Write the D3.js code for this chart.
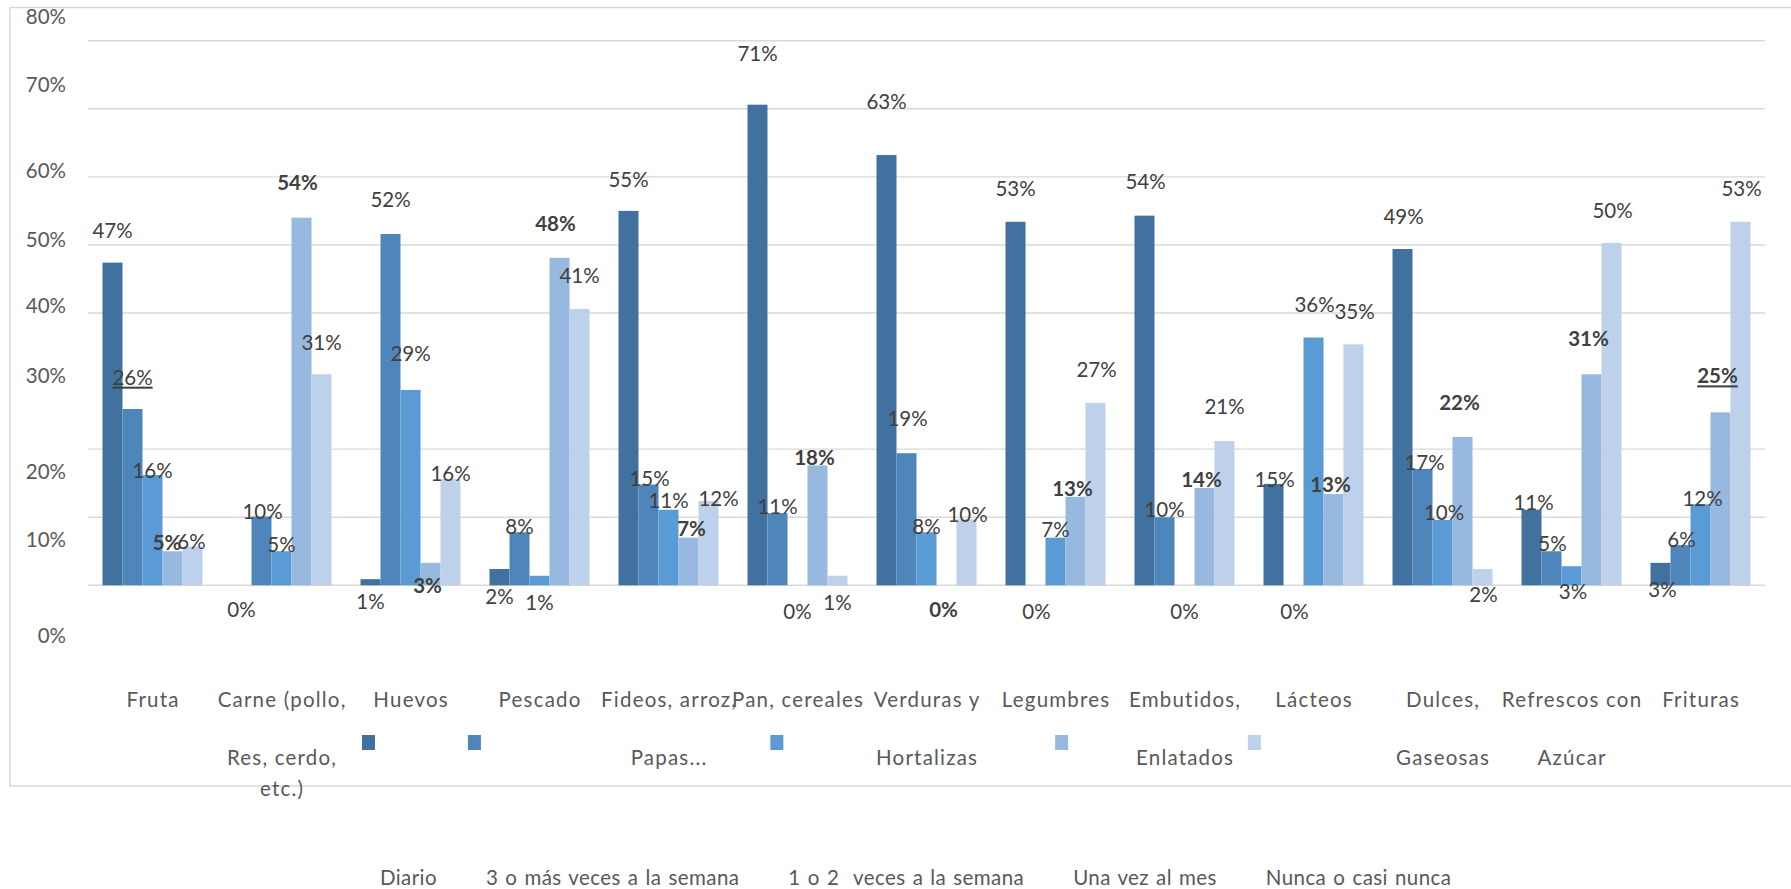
<!DOCTYPE html>
<html><head><meta charset="utf-8">
<script src="https://cdn.jsdelivr.net/npm/d3@7"></script>
<style>
body{margin:0;background:#fff}
svg{display:block}
text{font-family:Lato,'Open Sans',sans-serif}
</style>
</head><body>
<svg id="c" width="1791" height="889"></svg>
<script>
// ---------- data ----------
const categories = [
  ["Fruta"],
  ["Carne (pollo,", "Res, cerdo,", "etc.)"],
  ["Huevos"],
  ["Pescado"],
  ["Fideos, arroz,", "Papas..."],
  ["Pan, cereales"],
  ["Verduras y", "Hortalizas"],
  ["Legumbres"],
  ["Embutidos,", "Enlatados"],
  ["Lácteos"],
  ["Dulces,", "Gaseosas"],
  ["Refrescos con", "Azúcar"],
  ["Frituras"]
];
const seriesNames = ["Diario", "3 o más veces a la semana", "1 o 2  veces a la semana", "Una vez al mes", "Nunca o casi nunca"];
const diario  = [47.4, 0, 0.9, 2.4, 55.0, 70.6, 63.2, 53.4, 54.3, 14.9, 49.4, 11.1, 3.3];
const tresMas = [25.9, 10.1, 51.6, 7.8, 14.8, 10.6, 19.4, 0, 10.0, 0, 17.1, 5.0, 5.9];
const unoDos  = [16.2, 5.0, 28.7, 1.4, 11.1, 0, 7.8, 7.0, 0, 36.4, 9.6, 2.8, 11.9];
const unaVezMes = [5.0, 54.0, 3.3, 48.1, 7.0, 17.6, 0, 13.0, 14.3, 13.4, 21.8, 31.0, 25.4];
const nunca   = [5.7, 31.0, 15.6, 40.6, 12.4, 1.4, 9.7, 26.8, 21.2, 35.4, 2.4, 50.3, 53.4];
const yTickValues = [0, 10, 20, 30, 40, 50, 60, 70, 80];

// ---------- layout / style ----------
const colors = ["#41729f", "#4e86bb", "#5a9bd5", "#97b8df", "#bdd1ea"];
const W = 1791, H = 889;
const plot = {left: 88, right: 1765, top: 40.7, bottom: 585.3};
const fontSize = 20.5;
// manual label nudges (Excel-style moved data labels): [dx, dy from bar top to label centre]
const labelDx = [
  [0,0,0,0,0,0,0,0,1,1,1,2,2],
  [0,1,0,0,1,0,1,1,0,1,2,1,1],
  [0,0,0,0,0,0,0,0,0,1,1.5,1.5,2],
  [-5.5,-4,-3,-4,3,-3,-3,-3,-3,-3,-3,-3,-3],
  [-1,0,0,0,10,0,1,1,0,1,1,1,1]
];
const labelDy = [
  [-32,24,22.5,27.7,-31,-51.4,-53.4,-33.5,-34,-4.6,-32.3,-7,26.5],
  [-31.7,-4.8,-34,-5.5,-6,-6.4,-35,26,-8,26.4,-6.2,-8,-5.8],
  [-4.3,-6.3,-36,26.6,-9,26,-5.5,-7.6,26,-32.5,-7.7,25.5,-6],
  [-8.6,-35,23,-34.6,-9.3,-8,24,-8.5,-8,-9,-34.2,-36,-36.4],
  [-4.8,-31.6,-5.8,-33.6,-2.6,27,-4.3,-33,-34.3,-32.6,26,-32.2,-33.1]
];
const underlined = [[1,0],[3,12]]; // [series, category]
const yLabelShift = {0:58, 10:30, 20:30, 30:2, 40:0, 50:2.3, 60:1.2, 70:-16.7, 80:-16.7};
const catLineOffsets = [122, 180, 211];

// ---------- build ----------
const series = [diario, tresMas, unoDos, unaVezMes, nunca];
const catKeys = categories.map(c => c.join(" "));
const svg = d3.select("#c");

// outer chart border
svg.append("path")
  .attr("d", `M${W+5},7.5 H10 V786 H${W+5}`)
  .attr("fill", "none").attr("stroke", "#d9d9d9").attr("stroke-width", 1.5);

const x0 = d3.scaleBand().domain(catKeys).range([plot.left, plot.right]).paddingInner(0).paddingOuter(0);
const x1 = d3.scaleBand().domain(seriesNames).range([0, x0.bandwidth()]).paddingInner(0).paddingOuter(0.725);
const y = d3.scaleLinear().domain([0, 80]).range([plot.bottom, plot.top]);

// gridlines (the 30% line is absent in the original)
svg.append("g").selectAll("line")
  .data(yTickValues.filter(v => v !== 30))
  .join("line")
  .attr("x1", plot.left).attr("x2", plot.right)
  .attr("y1", d => y(d)).attr("y2", d => y(d))
  .attr("stroke", "#d9d9d9").attr("stroke-width", 1.4);

// y tick labels
svg.append("g").selectAll("text")
  .data(yTickValues)
  .join("text")
  .attr("x", 66).attr("y", d => y(d) + yLabelShift[d])
  .attr("text-anchor", "end")
  .attr("font-size", fontSize).attr("fill", "#595959")
  .text(d => d + "%");

// bars
const flat = [];
series.forEach((vals, si) => vals.forEach((v, ci) => flat.push({si, ci, v})));
svg.append("g").selectAll("rect")
  .data(flat)
  .join("rect")
  .attr("x", d => x0(catKeys[d.ci]) + x1(seriesNames[d.si]))
  .attr("y", d => y(d.v))
  .attr("width", x1.bandwidth())
  .attr("height", d => y(0) - y(d.v))
  .attr("fill", d => colors[d.si]);

// value labels
svg.append("g").selectAll("text")
  .data(flat)
  .join("text")
  .attr("x", d => x0(catKeys[d.ci]) + x1(seriesNames[d.si]) + x1.bandwidth()/2 + labelDx[d.si][d.ci])
  .attr("y", d => y(d.v) + labelDy[d.si][d.ci])
  .attr("dy", "0.36em")
  .attr("text-anchor", "middle")
  .attr("font-size", fontSize)
  .attr("font-weight", d => d.si === 3 ? "bold" : "normal")
  .attr("text-decoration", d => underlined.some(u => u[0] === d.si && u[1] === d.ci) ? "underline" : null)
  .attr("fill", "#404040")
  .text(d => Math.round(d.v) + "%");

// category labels
const cat = svg.append("g").selectAll("text")
  .data(categories)
  .join("text")
  .attr("text-anchor", "middle")
  .attr("font-size", fontSize).attr("fill", "#595959")
  .attr("letter-spacing", 1.2);
cat.selectAll("tspan")
  .data((d, i) => d.map((line, li) => ({line, li, i})))
  .join("tspan")
  .attr("x", d => x0(catKeys[d.i]) + x0.bandwidth()/2 + 0.6)
  .attr("y", d => y(0) + catLineOffsets[d.li])
  .text(d => d.line);

// legend (markers sit above their texts, as in the original)
const legend = svg.append("g");
let lx = 362;
seriesNames.forEach((name, i) => {
  legend.append("rect").attr("x", lx).attr("y", 735).attr("width", 13).attr("height", 15).attr("fill", colors[i]);
  const t = legend.append("text")
    .attr("x", lx + 18).attr("y", 885)
    .attr("font-size", fontSize).attr("fill", "#595959")
    .attr("letter-spacing", 0.4).attr("word-spacing", 1.5)
    .style("white-space", "pre")
    .text(name);
  lx += 18 + t.node().getComputedTextLength() + 31;
});
</script>
</body></html>
